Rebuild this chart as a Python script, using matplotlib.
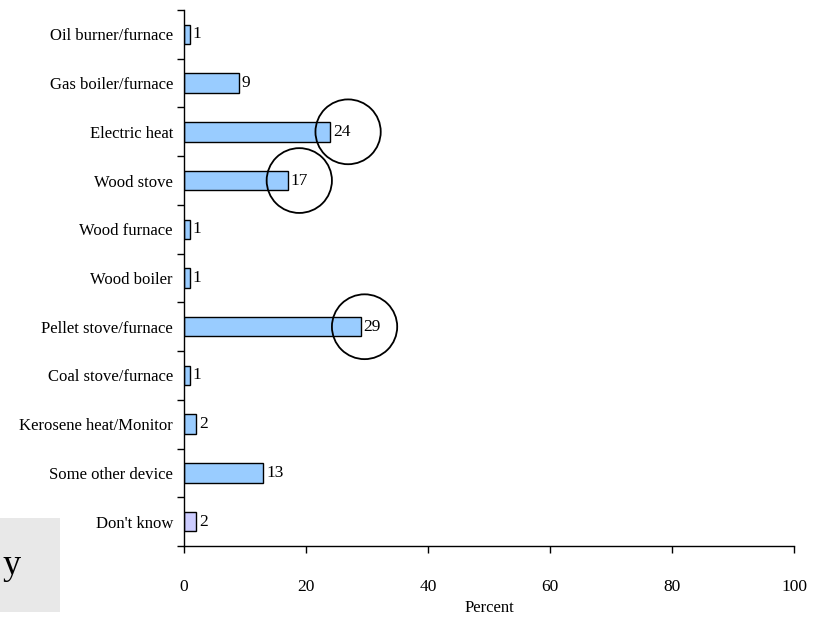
import matplotlib
matplotlib.use("Agg")
import matplotlib.pyplot as plt
from matplotlib.patches import Ellipse, Rectangle

categories = ["Oil burner/furnace", "Gas boiler/furnace", "Electric heat", "Wood stove",
              "Wood furnace", "Wood boiler", "Pellet stove/furnace", "Coal stove/furnace",
              "Kerosene heat/Monitor", "Some other device", "Don't know"]
values = [1, 9, 24, 17, 1, 1, 29, 1, 2, 13, 2]
bar_colors = ["#99CCFF"] * 10 + ["#CCCCFF"]
circled = {"Electric heat": 2.9, "Wood stove": 1.9, "Pellet stove/furnace": 0.6}
xticks = [0, 20, 40, 60, 80, 100]
xlabel = "Percent"

plt.rcParams['font.family'] = ['Liberation Serif', 'DejaVu Serif']
FS = 12

fig = plt.figure(figsize=(8.19, 6.17), dpi=100)
ax = fig.add_axes([184/819, 1-546/617, (794-184)/819, (546-10)/617])

ypos = list(range(len(categories)))
ax.barh(ypos, values, height=0.4, color=bar_colors, edgecolor='black', linewidth=1.0, zorder=2)
for y, v in zip(ypos, values):
    ax.annotate(str(v), (v, y), xytext=(2.0, 0), textcoords='offset points',
                va='center', ha='left', fontsize=FS + 0.5)

for name, off in circled.items():
    i = categories.index(name)
    ax.add_patch(Ellipse((values[i] + off, i), width=10.7, height=1.33, fill=False,
                         edgecolor='black', linewidth=1.3, zorder=3, clip_on=False))

ax.set_xlim(0, 100)
ax.set_ylim(len(categories) - 0.5, -0.5)
ax.set_xticks(xticks)
ax.set_xticklabels([str(t) for t in xticks], fontsize=FS + 0.5)
ax.set_yticks(ypos)
ax.set_yticklabels(categories, fontsize=FS)
ax.set_yticks([i - 0.5 for i in range(len(categories) + 1)], minor=True)
ax.tick_params(axis='y', which='major', length=0, pad=8)
ax.tick_params(axis='y', which='minor', length=5, direction='out', width=1)
ax.tick_params(axis='x', which='major', length=5, direction='out', width=1, pad=19)
ax.set_xlabel(xlabel, fontsize=FS, labelpad=3)
for s in ['top', 'right']:
    ax.spines[s].set_visible(False)
for s in ['left', 'bottom']:
    ax.spines[s].set_linewidth(1)

fig.patches.append(Rectangle((0, 1-612/617), 60/819, 94/617, transform=fig.transFigure,
                             facecolor='#E8E8E8', edgecolor='none', zorder=0))
fig.text(21/819, 1-566/617, "y", fontsize=26, ha='right', va='center')

fig.savefig("out.png", dpi=100)
